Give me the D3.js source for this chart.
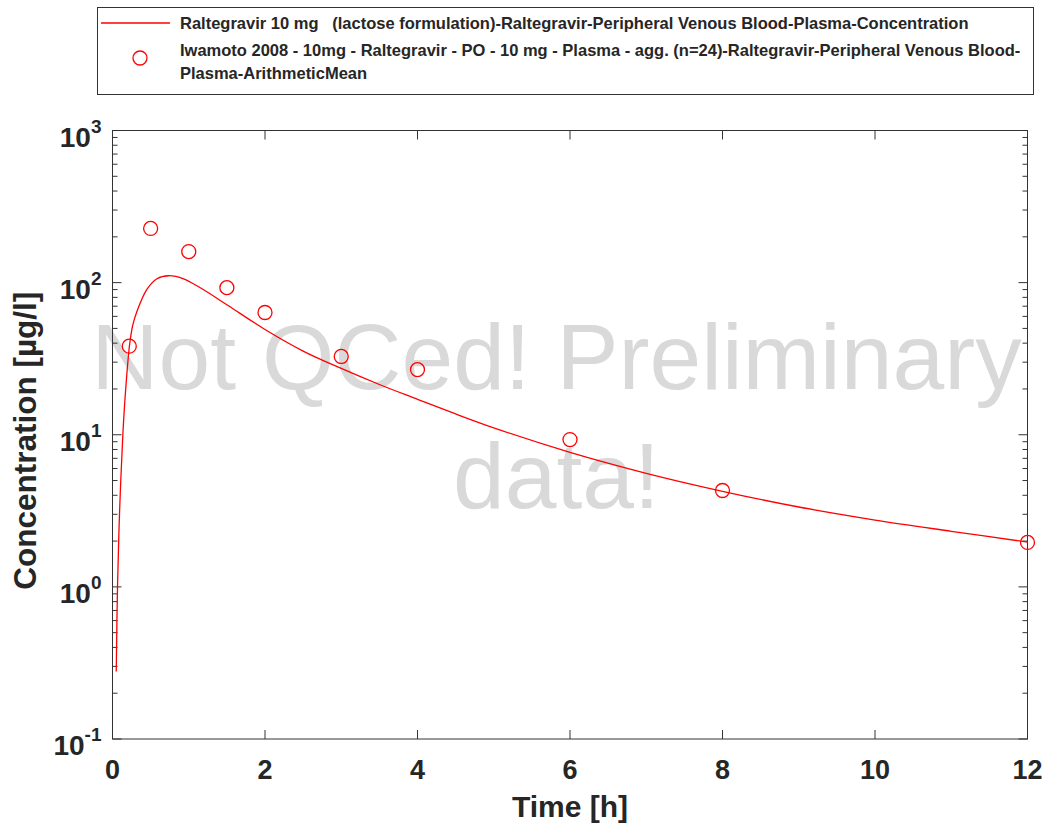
<!DOCTYPE html>
<html>
<head>
<meta charset="utf-8">
<script src="https://cdn.jsdelivr.net/npm/d3@7"></script>
<style>
    body { margin: 0; background: #fff; }
    text { font-family: "Liberation Sans", Arial, sans-serif; fill: #262626; }
    .axis-line { stroke: #333; stroke-width: 1; fill: none; }
</style>
</head>
<body>
<div class="chart"></div>
<script>
// simulated profile
const simTime = [0.049, 0.066, 0.094, 0.136, 0.173, 0.223, 0.265, 0.32, 0.451, 0.583, 0.735,
    0.932, 1.151, 1.5, 2, 2.5, 3, 3.5, 4, 4.5, 5, 6, 7, 8, 9, 10, 11, 12]
const simConc = [0.278, 1.02, 3.24, 10.1, 19.9, 38.6, 52.3, 64.6, 90.2, 106, 111,
    106, 92.5, 71.6, 49.2, 35.5, 27.3, 21.4, 17.1, 13.7, 11.1, 7.66, 5.58, 4.25, 3.35, 2.75, 2.32, 1.97]

// observed arithmetic means
const obsTime = [0.22, 0.5, 1, 1.5, 2, 3, 4, 6, 8, 12]
const obsConc = [38.2, 227, 160, 92.7, 63.6, 32.7, 26.8, 9.3, 4.3, 1.96]

const xTicks = [0, 2, 4, 6, 8, 10, 12]
const yExponents = [-1, 0, 1, 2, 3]

const legendLabels = [
    'Raltegravir 10 mg   (lactose formulation)-Raltegravir-Peripheral Venous Blood-Plasma-Concentration',
    'Iwamoto 2008 - 10mg - Raltegravir - PO - 10 mg - Plasma - agg. (n=24)-Raltegravir-Peripheral Venous Blood-',
    'Plasma-ArithmeticMean'
]
const watermark = ['Not QCed! Preliminary', 'data!']

const fullWidth = 1046
const fullHeight = 830
const margin = {top: 130.5, right: 18.5, bottom: 91, left: 112.5}
const width = fullWidth - margin.left - margin.right
const height = fullHeight - margin.top - margin.bottom
const red = '#ff0000'

const svg = d3.select('.chart')
    .append('svg')
        .attr('width', fullWidth)
        .attr('height', fullHeight)

svg.append('rect')
    .attr('width', fullWidth)
    .attr('height', fullHeight)
    .style('fill', '#fff')

const canvas = svg.append('g')
    .attr('transform', `translate(${margin.left}, ${margin.top})`)

const xScale = d3.scaleLinear().domain([0, 12]).range([0, width])
const yScale = d3.scaleLog().domain([0.1, 1000]).range([height, 0])

// watermark sits behind the data
const wm = canvas.append('g')
watermark.forEach((t, i) => {
    wm.append('text')
        .attr('x', 444)
        .attr('y', 258 + i * 119)
        .attr('text-anchor', 'middle')
        .style('font-size', '93px')
        .style('fill', '#d9d9d9')
        .text(t)
})

// ticks, inward on all four sides
const minorTicks = []
yExponents.slice(0, -1).forEach(e => {
    for (let k = 2; k <= 9; k++) minorTicks.push(k * Math.pow(10, e))
})
const majorY = yExponents.map(e => Math.pow(10, e))

const ticks = canvas.append('g').attr('class', 'ticks')
xTicks.forEach(v => {
    ticks.append('line').attr('class', 'axis-line')
        .attr('x1', xScale(v)).attr('x2', xScale(v)).attr('y1', height).attr('y2', height - 9)
    ticks.append('line').attr('class', 'axis-line')
        .attr('x1', xScale(v)).attr('x2', xScale(v)).attr('y1', 0).attr('y2', 9)
})
majorY.forEach(v => {
    ticks.append('line').attr('class', 'axis-line')
        .attr('x1', 0).attr('x2', 9).attr('y1', yScale(v)).attr('y2', yScale(v))
    ticks.append('line').attr('class', 'axis-line')
        .attr('x1', width).attr('x2', width - 9).attr('y1', yScale(v)).attr('y2', yScale(v))
})
minorTicks.forEach(v => {
    ticks.append('line').attr('class', 'axis-line')
        .attr('x1', 0).attr('x2', 5).attr('y1', yScale(v)).attr('y2', yScale(v))
    ticks.append('line').attr('class', 'axis-line')
        .attr('x1', width).attr('x2', width - 5).attr('y1', yScale(v)).attr('y2', yScale(v))
})

canvas.append('rect')
    .attr('class', 'axis-line')
    .attr('width', width)
    .attr('height', height)

// tick labels
xTicks.forEach(v => {
    canvas.append('text')
        .attr('x', xScale(v))
        .attr('y', height + 40)
        .attr('text-anchor', 'middle')
        .style('font-size', '27px')
        .style('font-weight', 'bold')
        .text(v)
})
yExponents.forEach(e => {
    let t = canvas.append('text')
        .attr('x', -11)
        .attr('y', yScale(Math.pow(10, e)) + 16)
        .attr('text-anchor', 'end')
        .style('font-size', '28px')
        .style('font-weight', 'bold')
    t.append('tspan').text('10')
    t.append('tspan').attr('dy', -14).style('font-size', '19px').text(e)
})

// axis titles
canvas.append('text')
    .attr('x', width / 2)
    .attr('y', height + 78)
    .attr('text-anchor', 'middle')
    .style('font-size', '30px')
    .style('font-weight', 'bold')
    .text('Time [h]')

canvas.append('text')
    .attr('transform', `translate(${36 - margin.left}, ${height / 2 + 6}) rotate(-90)`)
    .attr('text-anchor', 'middle')
    .style('font-size', '31.5px')
    .style('font-weight', 'bold')
    .text('Concentration [µg/l]')

// simulated curve
const line = d3.line()
    .x(d => xScale(d[0]))
    .y(d => yScale(d[1]))
    .curve(d3.curveCatmullRom.alpha(0.5))

canvas.append('path')
    .attr('d', line(d3.zip(simTime, simConc)))
    .style('fill', 'none')
    .style('stroke', red)
    .style('stroke-width', 1.3)

// observed points
canvas.selectAll('.obs')
    .data(d3.zip(obsTime, obsConc))
    .enter().append('circle')
        .attr('class', 'obs')
        .attr('cx', d => xScale(d[0]))
        .attr('cy', d => yScale(d[1]))
        .attr('r', 7)
        .style('fill', 'none')
        .style('stroke', red)
        .style('stroke-width', 1.3)

// legend
const legend = svg.append('g')
legend.append('rect')
    .attr('x', 97.5).attr('y', 7.5)
    .attr('width', 936).attr('height', 87)
    .style('fill', '#fff')
    .style('stroke', '#333')
    .style('stroke-width', 1)
legend.append('line')
    .attr('x1', 101).attr('x2', 170).attr('y1', 23).attr('y2', 23)
    .style('stroke', red).style('stroke-width', 1.3)
legend.append('circle')
    .attr('cx', 140).attr('cy', 58).attr('r', 7)
    .style('fill', 'none').style('stroke', red).style('stroke-width', 1.3)
const legendY = [29, 56, 79]
legendLabels.forEach((t, i) => {
    legend.append('text')
        .attr('x', 180)
        .attr('y', legendY[i])
        .attr('xml:space', 'preserve')
        .style('white-space', 'pre')
        .style('font-size', '16.5px')
        .style('font-weight', 'bold')
        .text(t)
})
</script>
</body>
</html>
